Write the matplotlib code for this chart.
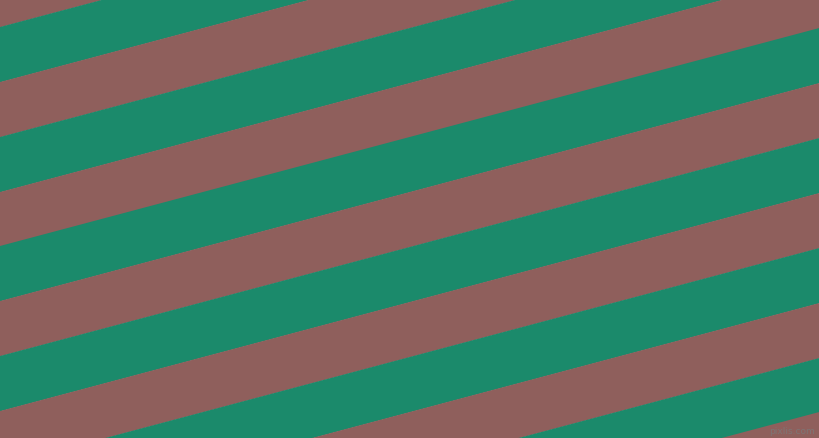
import numpy as np
import matplotlib
matplotlib.use('Agg')
import matplotlib.pyplot as plt

# where each stripe starts on the left edge (pixels from top), and its colour
stripe_starts = [-82, -27, 28, 83, 138, 193, 247, 302, 357, 412, 467, 522, 577, 631]
stripe_colors = ['#1b8a6b', '#8f5f5c'] * 7
stripe_height = 54.9
slope = np.tan(np.radians(14.9))

W, H = 819, 439

fig = plt.figure(figsize=(W / 100, H / 100), dpi=100)
ax = fig.add_axes([0, 0, 1, 1])

x = np.array([0, W])
for start, color in zip(stripe_starts, stripe_colors):
    top = start - slope * x
    ax.fill_between(x, top, top + stripe_height + 0.6, color=color, lw=0)

ax.text(815, 434, 'pixlis.com', ha='right', va='baseline', fontsize=6.5,
        color='#7a7a7a', alpha=0.8)

ax.set_xlim(0, W)
ax.set_ylim(H, 0)
ax.axis('off')

plt.savefig('out.png', dpi=100)
